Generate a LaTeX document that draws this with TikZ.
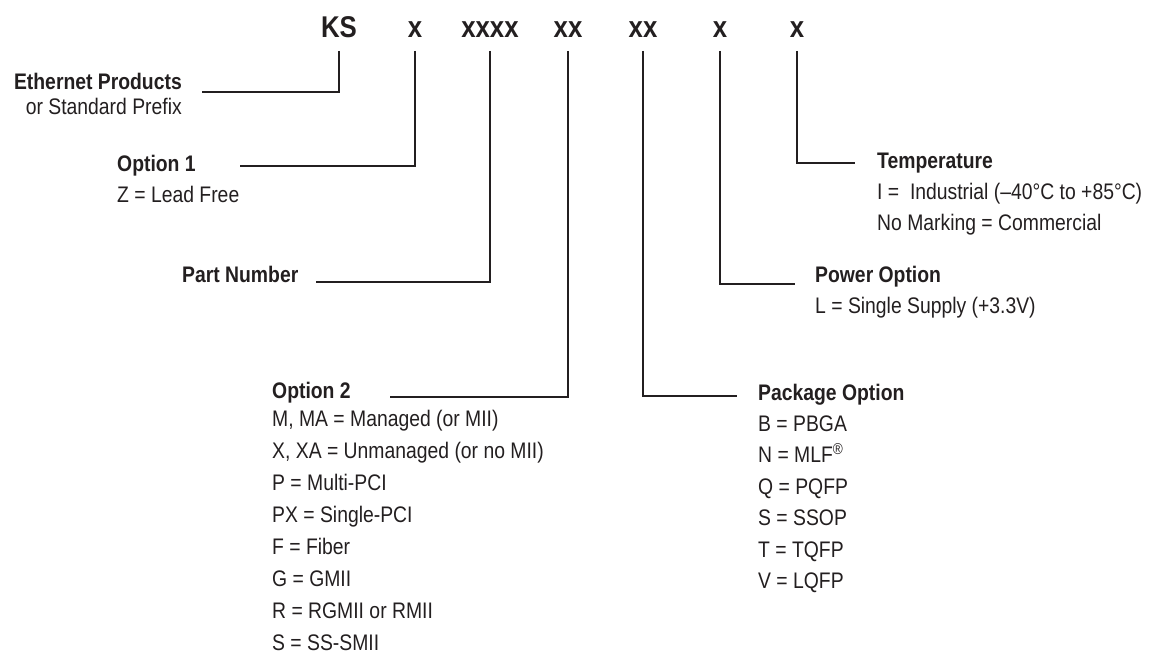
\documentclass[tikz,border=0pt]{standalone}
\usepackage{fontspec}
\setmainfont{Liberation Sans}[FakeStretch=0.86]
\usetikzlibrary{positioning}
\definecolor{ink}{RGB}{35,31,32}

\begin{document}
\begin{tikzpicture}[
        x=1pt, y=-1pt,
        code/.style={font=\fontsize{30}{36}\selectfont\bfseries, text=ink, inner sep=0pt, outer ysep=13pt, text depth=0pt, anchor=base},
        head/.style={font=\fontsize{22.5}{27}\selectfont\bfseries, text=ink, inner sep=0pt, anchor=base west},
        entry/.style={font=\fontsize{22.5}{27}\selectfont, text=ink, inner sep=0pt, anchor=base west},
        leader/.style={draw=ink, line width=2.2pt}
    ]
        \useasboundingbox (0,0) rectangle (1150,658);

        % Code fields
        \node[code] (ks) at (339,38) {KS};
        \node[code] (opa) at (415,38) {x};
        \node[code] (num) at (490,38) {xxxx};
        \node[code] (opb) at (568,38) {xx};
        \node[code] (pkg) at (643,38) {xx};
        \node[code] (pwr) at (720,38) {x};
        \node[code] (tmp) at (797,38) {x};

        % Left side fields
        \node[head, anchor=base east] (ethhd) at (182,90) {Ethernet Products};
        \node[entry, anchor=base east] (ethtx) at (182,115) {or Standard Prefix};

        \node[head] (opahd) at (117,171) {Option 1};
        \node[entry] (opatx) at (117,202) {Z = Lead Free};

        \node[head] (numhd) at (182,282) {Part Number};

        \node[head] (opbhd) at (272,398) {Option 2};
        \foreach \t [count=\i from 0] in {
            {M, MA = Managed (or MII)},
            {X, XA = Unmanaged (or no MII)},
            {P = Multi-PCI},
            {PX = Single-PCI},
            {F = Fiber},
            {G = GMII},
            {R = RGMII or RMII},
            {S = SS-SMII}} {
            \node[entry] (opb-\i) at (272,426+32*\i) {\t};
        }

        % Right side fields
        \node[head] (pkghd) at (758,400) {Package Option};
        \foreach \t [count=\i from 0] in {
            {B = PBGA},
            {N = MLF\textsuperscript{\textregistered}},
            {Q = PQFP},
            {S = SSOP},
            {T = TQFP},
            {V = LQFP}} {
            \node[entry] (pkg-\i) at (758,431+31.5*\i) {\t};
        }

        \node[head] (pwrhd) at (815,282) {Power Option};
        \node[entry] (pwrtx) at (815,313) {L = Single Supply (+3.3V)};

        \node[head] (tmphd) at (877,168) {Temperature};
        \node[entry] (tmp-0) at (877,199) {I = \ Industrial (--40°C to +85°C)};
        \node[entry] (tmp-1) at (877,230) {No Marking = Commercial};

        % Leader ends
        \coordinate (ethend) at (202,92);
        \coordinate (opaend) at (240,166);
        \coordinate (numend) at (316,282);
        \coordinate (opbend) at (390,397);
        \coordinate (pkgend) at (737,396);
        \coordinate (pwrend) at (795,284);
        \coordinate (tmpend) at (855,163);

        % Leaders
        \draw[leader] (ks.south) |- (ethend);
        \draw[leader] (opa.south) |- (opaend);
        \draw[leader] (num.south) |- (numend);
        \draw[leader] (opb.south) |- (opbend);
        \draw[leader] (pkg.south) |- (pkgend);
        \draw[leader] (pwr.south) |- (pwrend);
        \draw[leader] (tmp.south) |- (tmpend);

    \end{tikzpicture}
\end{document}
